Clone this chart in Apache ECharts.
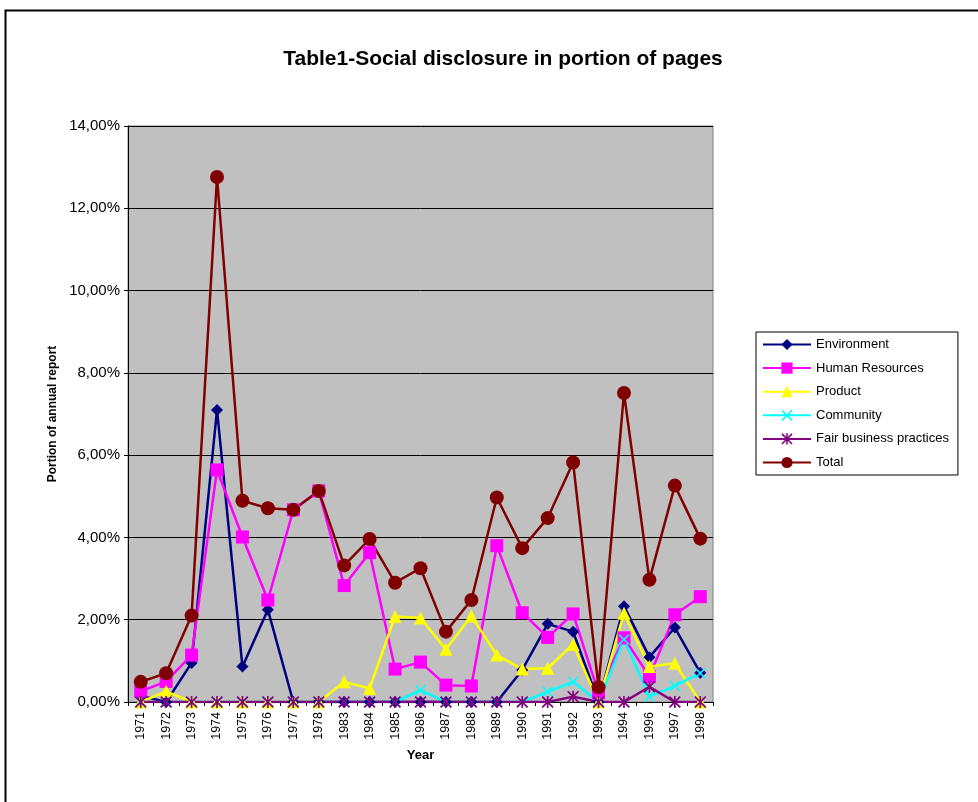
<!DOCTYPE html>
<html>
<head>
<meta charset="utf-8">
<script src="https://cdn.jsdelivr.net/npm/echarts@6/dist/echarts.min.js"></script>
<style>
html,body{margin:0;padding:0;background:#fff;}
#c{width:978px;height:802px;}
</style>
</head>
<body>
<div id="c"></div>
<script>
const years = ['1971','1972','1973','1974','1975','1976','1977','1978','1983','1984','1985','1986','1987','1988','1989','1990','1991','1992','1993','1994','1996','1997','1998'];
const environment = [0.15,0,0.95,7.10,0.86,2.24,0,0,0,0,0,0,0,0,0,0.78,1.90,1.71,0,2.33,1.09,1.81,0.71];
const humanResources = [0.26,0.50,1.14,5.64,4.01,2.48,4.67,5.13,2.83,3.63,0.80,0.97,0.41,0.39,3.80,2.17,1.57,2.14,0.22,1.56,0.62,2.12,2.56];
const product = [0,0.26,0,0,0,0,0,0,0.49,0.33,2.08,2.04,1.28,2.09,1.14,0.80,0.82,1.40,0,2.16,0.86,0.94,0];
const community = [0,0,0,0,0,0,0,0,0,0,0,0.29,0,0,0,0,0.25,0.49,0,1.52,0.13,0.39,0.70];
const fairBusiness = [0,0,0,0,0,0,0,0,0,0,0,0,0,0,0,0,0,0.13,0,0,0.37,0,0];
const total = [0.49,0.70,2.10,12.76,4.89,4.71,4.67,5.13,3.32,3.96,2.90,3.25,1.71,2.48,4.97,3.74,4.47,5.82,0.36,7.51,2.97,5.26,3.97];
const yTicks = {min:0, max:14, interval:2};

const FONT = 'Liberation Sans, Arial, sans-serif';
const xPath = 'path://M0,1L1,0L5,4L9,0L10,1L6,5L10,9L9,10L5,6L1,10L0,9L4,5Z';
const starPath = 'path://M0,1L1,0L5,4L9,0L10,1L6,5L10,9L9,10L5,6L1,10L0,9L4,5Z M4.3,0L5.7,0L5.7,10L4.3,10Z';

function mk(name, data, color, symbol, size){
  return {
    name, type:'line', data, symbol, symbolSize:size, showAllSymbol:true,
    lineStyle:{color, width:2.5}, itemStyle:{color, borderWidth:0},
    emphasis:{disabled:true}, animation:false, z:2
  };
}

const chart = echarts.init(document.getElementById('c'));
chart.setOption({
  backgroundColor:'#fff',
  animation:false,
  title:{
    text:'Table1-Social disclosure in portion of pages',
    left:498, top:44, textAlign:'center',
    textStyle:{fontFamily:FONT, fontSize:21, fontWeight:'bold', color:'#000'}
  },
  graphic:[{
    type:'rect', left:3, top:8, z:-1, silent:true,
    shape:{width:1000, height:1000},
    style:{fill:'none', stroke:'#000', lineWidth:2}
  }],
  legend:{
    orient:'vertical', left:756, top:332,
    padding:[6,9,6,6], itemGap:10.6, itemWidth:48, itemHeight:14,
    borderColor:'#000', borderWidth:1, backgroundColor:'#fff',
    textStyle:{fontFamily:FONT, fontSize:13, color:'#000'},
    data:['Environment','Human Resources','Product','Community','Fair business practices','Total']
  },
  grid:{left:128, right:265, top:126, bottom:100, show:true, backgroundColor:'#C0C0C0', borderColor:'#808080', borderWidth:1},
  xAxis:{
    type:'category', data:years, boundaryGap:true,
    name:'Year', nameLocation:'middle', nameGap:47,
    nameTextStyle:{fontFamily:FONT, fontSize:13, fontWeight:'bold', color:'#000'},
    axisLine:{lineStyle:{color:'#000', width:1}},
    axisTick:{show:true, length:4, inside:false, alignWithLabel:false, lineStyle:{color:'#000'}},
    axisLabel:{rotate:90, interval:0, margin:10, fontFamily:FONT, fontSize:12.5, color:'#000'},
    splitLine:{show:false}
  },
  yAxis:{
    type:'value', min:yTicks.min, max:yTicks.max, interval:yTicks.interval,
    name:'Portion of annual report', nameLocation:'middle', nameGap:62, nameRotate:90,
    nameTextStyle:{fontFamily:FONT, fontSize:12, fontWeight:'bold', color:'#000'},
    axisLine:{show:true, lineStyle:{color:'#000', width:1}},
    axisTick:{show:true, length:4, lineStyle:{color:'#000'}},
    axisLabel:{margin:8, fontFamily:FONT, fontSize:15, color:'#000',
      formatter:v => v.toFixed(2).replace('.', ',') + '%'},
    splitLine:{show:true, lineStyle:{color:'#000', width:1}}
  },
  series:[
    mk('Environment', environment, '#000080', 'diamond', 12),
    mk('Human Resources', humanResources, '#FF00FF', 'rect', 13),
    mk('Product', product, '#FFFF00', 'triangle', 13),
    mk('Community', community, '#00FFFF', xPath, 11),
    mk('Fair business practices', fairBusiness, '#800080', starPath, 12),
    mk('Total', total, '#800000', 'circle', 14)
  ]
});
</script>
</body>
</html>
